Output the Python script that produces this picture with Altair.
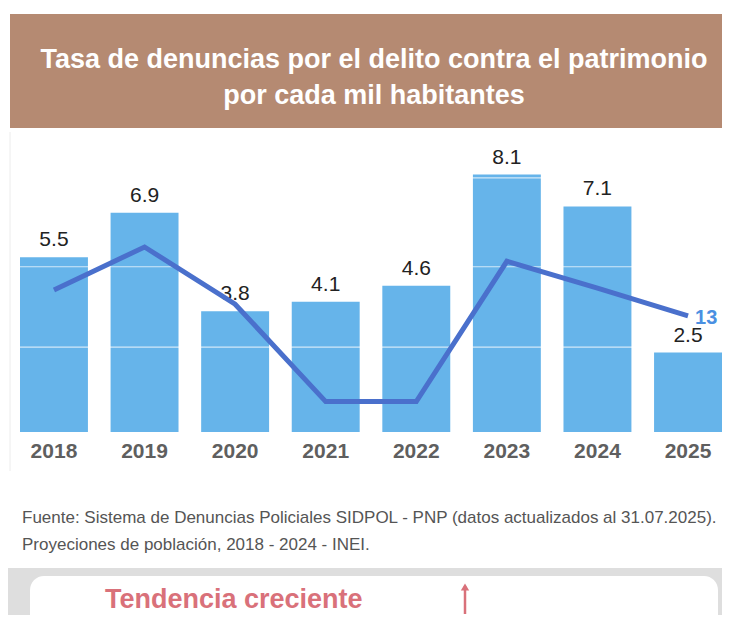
import altair as alt
import pandas as pd

# ---- data ----
years = ["2018", "2019", "2020", "2021", "2022", "2023", "2024", "2025"]
tasa = [5.5, 6.9, 3.8, 4.1, 4.6, 8.1, 7.1, 2.5]
tendencia = [15.9, 20.7, 14.3, 3.4, 3.4, 19.1, 16.1, 13]
grid_vals = [2.67, 5.2, 8.0]

title_lines = ["Tasa de denuncias por el delito contra el patrimonio",
               "por cada mil habitantes"]
footer_lines = ["Fuente: Sistema de Denuncias Policiales SIDPOL - PNP (datos actualizados al 31.07.2025).",
                "Proyeciones de población, 2018 - 2024 - INEI."]
trend_text = "Tendencia creciente"

FONT = "Liberation Sans"
BAR = "#66b4ea"
LINE = "#4a70cc"
BROWN = "#b58a72"
SALMON = "#d9717a"

df = pd.DataFrame({"year": years, "tasa": tasa, "tend": tendencia})
one = alt.Data(values=[{"k": 1}])

W, H = 702, 286

xenc = alt.X("year:N", sort=years,
             scale=alt.Scale(paddingInner=0.25, paddingOuter=0),
             axis=alt.Axis(title=None, labelAngle=0, labelFontSize=21,
                           labelFontWeight="bold", labelColor="#5f5f5f",
                           labelFont=FONT, ticks=False, domain=False,
                           labelPadding=8, grid=False))
ybar = alt.Y("tasa:Q", scale=alt.Scale(domain=[0, 9], nice=False), axis=None)
yline = alt.Y("tend:Q", scale=alt.Scale(domain=[0, 32], nice=False), axis=None)

base = alt.Chart(df)

bars = base.mark_bar(color=BAR).encode(x=xenc, y=ybar)
bar_labels = base.mark_text(dy=-17, fontSize=21, font=FONT, color="#222222",
                            baseline="middle").encode(
    x=alt.X("year:N", sort=years), y=ybar, text=alt.Text("tasa:Q", format=".1f"))

grid = alt.Chart(pd.DataFrame({"g": grid_vals})).mark_rule(
    color="white", strokeWidth=1.2, opacity=0.7).encode(
    y=alt.Y("g:Q", scale=alt.Scale(domain=[0, 9], nice=False), axis=None))

line = base.mark_line(color=LINE, strokeWidth=5).encode(
    x=alt.X("year:N", sort=years), y=yline)
line_label = base.transform_filter(alt.datum.year == "2025").mark_text(
    align="left", baseline="middle", dx=7, dy=2, fontSize=20, fontWeight="bold",
    font=FONT, color="#4a90e2").encode(
    x=alt.X("year:N", sort=years), y=yline, text=alt.Text("tend:Q", format="d"))

# ---- decorations ----
banner = alt.Chart(one).mark_rect(color=BROWN).encode(
    x=alt.value(-10), x2=alt.value(W), y=alt.value(-132), y2=alt.value(-18))
t1 = alt.Chart(one).mark_text(text=title_lines[0], color="white", fontSize=27,
                              fontWeight="bold", font=FONT, align="center",
                              baseline="middle").encode(
    x=alt.value(354), y=alt.value(-86))
t2 = alt.Chart(one).mark_text(text=title_lines[1], color="white", fontSize=27,
                              fontWeight="bold", font=FONT, align="center",
                              baseline="middle").encode(
    x=alt.value(354), y=alt.value(-50))
frame = alt.Chart(one).mark_rule(color="#ececec", strokeWidth=1).encode(
    x=alt.value(-10), y=alt.value(-14), y2=alt.value(325))

f1 = alt.Chart(one).mark_text(text=footer_lines[0], color="#555555", fontSize=17,
                              font=FONT, align="left", baseline="middle").encode(
    x=alt.value(2), y=alt.value(372))
f2 = alt.Chart(one).mark_text(text=footer_lines[1], color="#555555", fontSize=17,
                              font=FONT, align="left", baseline="middle").encode(
    x=alt.value(2), y=alt.value(399))

band = alt.Chart(one).mark_rect(color="#dedede").encode(
    x=alt.value(-12), x2=alt.value(W), y=alt.value(422), y2=alt.value(480))
box = alt.Chart(one).mark_rect(color="white", cornerRadius=14).encode(
    x=alt.value(10), x2=alt.value(W - 4), y=alt.value(430), y2=alt.value(500))
trend = alt.Chart(one).mark_text(text=trend_text, color=SALMON, fontSize=27,
                                 fontWeight="bold", font=FONT, align="left",
                                 baseline="middle").encode(
    x=alt.value(85), y=alt.value(454))
arrow_shaft = alt.Chart(one).mark_rule(color=SALMON, strokeWidth=2.5).encode(
    x=alt.value(445), y=alt.value(440), y2=alt.value(468))
arrow_head = alt.Chart(one).mark_point(shape="triangle-up", filled=True,
                                       color=SALMON, size=70, opacity=1).encode(
    x=alt.value(445), y=alt.value(441))

chart = alt.layer(
    banner, t1, t2, frame,
    bars, grid, bar_labels, line, line_label,
    f1, f2, band, box, trend, arrow_shaft, arrow_head
).resolve_scale(y="independent").properties(
    width=W, height=H, autosize="none",
    padding={"left": 12, "right": 0, "top": 138, "bottom": 183},
    background="white"
).configure_view(stroke=None)

chart.save("out.html", embed_options={"renderer": "svg", "actions": False})
